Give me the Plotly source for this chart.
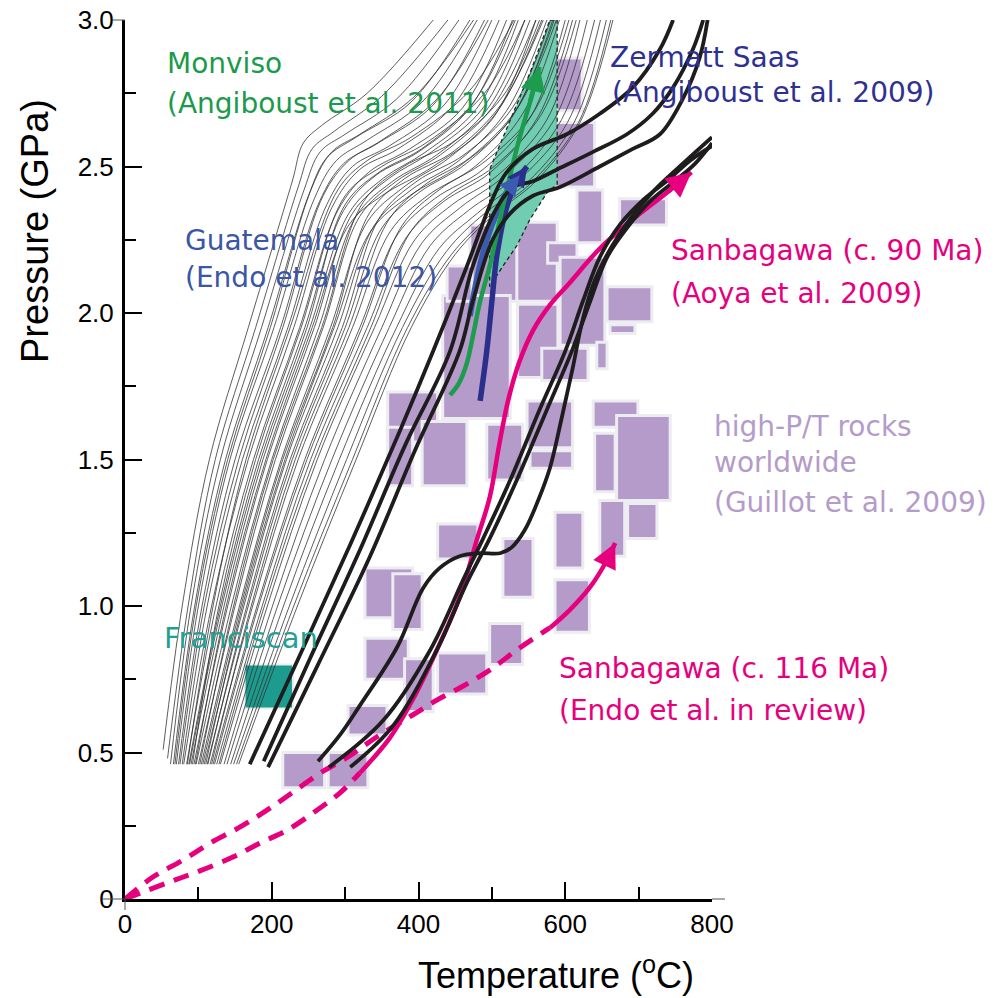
import plotly.graph_objects as go

# ---------------- DATA ----------------
x_tick_vals = [0, 200, 400, 600, 800]
x_tick_text = ["0", "200", "400", "600", "800"]
x_minor_vals = [100, 300, 500, 700]
y_tick_vals = [0, 0.5, 1.0, 1.5, 2.0, 2.5, 3.0]
y_tick_text = ["0", "0.5", "1.0", "1.5", "2.0", "2.5", "3.0"]
y_minor_vals = [0.25, 0.75, 1.25, 1.75, 2.25, 2.75]

# thin model P-T paths (temperature list, pressure list)
thin_curves = [
    ([52, 78, 115, 168, 228, 243, 268, 330, 420], [0.51, 1.0, 1.5, 1.95, 2.45, 2.58, 2.64, 2.75, 3.0]),
    ([58, 86, 123, 178, 236, 255, 285, 350, 440], [0.48, 1.0, 1.5, 1.95, 2.43, 2.56, 2.62, 2.74, 3.0]),
    ([62, 90, 130, 186, 244, 266, 300, 370, 455], [0.46, 1.0, 1.5, 1.95, 2.42, 2.55, 2.61, 2.73, 3.0]),
    ([66, 95, 137, 195, 250, 275, 315, 390, 470], [0.46, 1.0, 1.5, 1.95, 2.40, 2.53, 2.60, 2.72, 3.0]),
    ([70, 100, 143, 203, 258, 288, 330, 405, 480], [0.46, 1.0, 1.5, 1.95, 2.39, 2.52, 2.59, 2.72, 3.0]),
    ([73, 105, 150, 212, 265, 298, 345, 420, 490], [0.46, 1.0, 1.5, 1.95, 2.38, 2.51, 2.58, 2.71, 3.0]),
    ([78, 112, 160, 222, 275, 310, 360, 435, 500], [0.46, 1.0, 1.5, 1.95, 2.37, 2.50, 2.57, 2.71, 3.0]),
    ([80, 118, 168, 230, 282, 320, 372, 448, 510], [0.46, 1.0, 1.5, 1.95, 2.36, 2.49, 2.56, 2.71, 3.0]),
    ([84, 124, 175, 238, 290, 332, 388, 460, 520], [0.46, 1.0, 1.5, 1.95, 2.35, 2.48, 2.56, 2.70, 3.0]),
    ([87, 130, 182, 245, 298, 342, 400, 470, 528], [0.46, 1.0, 1.5, 1.95, 2.35, 2.47, 2.55, 2.70, 3.0]),
    ([90, 135, 188, 252, 305, 352, 410, 480, 536], [0.46, 1.0, 1.5, 1.95, 2.34, 2.46, 2.55, 2.70, 3.0]),
    ([94, 140, 194, 258, 310, 360, 418, 488, 545], [0.46, 1.0, 1.5, 1.95, 2.34, 2.46, 2.55, 2.70, 3.0]),
    ([97, 145, 200, 264, 315, 365, 425, 495, 552], [0.46, 1.0, 1.5, 1.95, 2.33, 2.45, 2.54, 2.70, 3.0]),
    ([100, 150, 205, 270, 320, 370, 430, 500, 560], [0.46, 1.0, 1.5, 1.95, 2.33, 2.45, 2.54, 2.70, 3.0]),
    ([104, 156, 213, 280, 330, 380, 442, 508, 568], [0.46, 1.0, 1.5, 1.95, 2.31, 2.43, 2.53, 2.69, 3.0]),
    ([108, 162, 220, 290, 340, 390, 455, 520, 575], [0.46, 1.0, 1.5, 1.95, 2.30, 2.42, 2.52, 2.69, 3.0]),
    ([112, 168, 228, 300, 350, 400, 465, 530, 583], [0.46, 1.0, 1.5, 1.95, 2.29, 2.41, 2.51, 2.68, 3.0]),
    ([116, 174, 236, 310, 362, 412, 477, 542, 592], [0.46, 1.0, 1.5, 1.95, 2.28, 2.40, 2.50, 2.68, 3.0]),
    ([120, 180, 245, 320, 372, 422, 488, 553, 600], [0.46, 1.0, 1.5, 1.95, 2.27, 2.39, 2.49, 2.67, 3.0]),
    ([125, 187, 253, 330, 384, 434, 498, 563, 610], [0.46, 1.0, 1.5, 1.95, 2.26, 2.38, 2.48, 2.67, 3.0]),
    ([130, 194, 262, 340, 395, 446, 508, 575, 620], [0.46, 1.0, 1.5, 1.95, 2.25, 2.37, 2.47, 2.66, 3.0]),
    ([135, 201, 272, 350, 405, 457, 518, 585, 630], [0.46, 1.0, 1.5, 1.95, 2.24, 2.36, 2.47, 2.66, 3.0]),
    ([139, 208, 282, 360, 416, 468, 530, 595, 640], [0.46, 1.0, 1.5, 1.95, 2.23, 2.35, 2.46, 2.66, 3.0]),
    ([144, 216, 292, 370, 428, 480, 540, 603, 648], [0.46, 1.0, 1.5, 1.95, 2.22, 2.34, 2.46, 2.65, 3.0]),
    ([148, 224, 302, 378, 438, 490, 550, 612, 656], [0.46, 1.0, 1.5, 1.95, 2.21, 2.34, 2.45, 2.65, 3.0]),
    ([152, 230, 310, 385, 445, 496, 556, 618, 662], [0.46, 1.0, 1.5, 1.95, 2.20, 2.33, 2.45, 2.65, 3.0]),
    ([155, 235, 315, 390, 450, 500, 560, 620, 665], [0.46, 1.0, 1.5, 1.95, 2.20, 2.33, 2.45, 2.65, 3.0]),
    ([85, 120, 165, 225, 290, 330, 390, 470, 530], [0.46, 1.0, 1.5, 1.95, 2.42, 2.52, 2.60, 2.76, 3.0]),
    ([92, 128, 178, 240, 300, 350, 410, 490, 545], [0.46, 1.0, 1.5, 1.95, 2.40, 2.50, 2.58, 2.75, 3.0]),
    ([96, 138, 192, 255, 305, 350, 420, 500, 560], [0.46, 1.0, 1.5, 1.95, 2.30, 2.40, 2.50, 2.66, 3.0]),
    ([102, 148, 202, 268, 325, 380, 445, 515, 565], [0.46, 1.0, 1.5, 1.95, 2.38, 2.50, 2.58, 2.74, 3.0]),
    ([110, 160, 218, 285, 335, 388, 455, 525, 585], [0.46, 1.0, 1.5, 1.95, 2.28, 2.40, 2.50, 2.66, 3.0]),
    ([118, 172, 232, 305, 360, 410, 470, 535, 588], [0.46, 1.0, 1.5, 1.95, 2.32, 2.44, 2.53, 2.70, 3.0]),
    ([75, 108, 155, 215, 270, 305, 350, 425, 495], [0.46, 1.0, 1.5, 1.95, 2.40, 2.52, 2.59, 2.73, 3.0]),
    ([68, 97, 140, 198, 255, 282, 320, 395, 475], [0.46, 1.0, 1.5, 1.95, 2.43, 2.55, 2.61, 2.74, 3.0]),
    ([128, 190, 258, 335, 390, 440, 503, 568, 615], [0.46, 1.0, 1.5, 1.95, 2.28, 2.40, 2.50, 2.68, 3.0]),
    ([106, 158, 215, 283, 333, 382, 447, 512, 570], [0.46, 1.0, 1.5, 1.95, 2.34, 2.46, 2.55, 2.71, 3.0]),
    ([113, 166, 225, 296, 348, 398, 462, 528, 580], [0.46, 1.0, 1.5, 1.95, 2.33, 2.45, 2.54, 2.70, 3.0]),
    ([122, 182, 248, 323, 378, 428, 492, 558, 605], [0.46, 1.0, 1.5, 1.95, 2.30, 2.42, 2.52, 2.69, 3.0]),
    ([88, 132, 185, 248, 300, 346, 404, 475, 532], [0.46, 1.0, 1.5, 1.95, 2.37, 2.48, 2.56, 2.72, 3.0]),
]

# thick black P-T paths
black_1a_T = [170, 238, 307, 375, 420, 466, 501, 520, 556, 602, 647, 692, 729, 747]
black_1a_P = [0.46, 0.83, 1.21, 1.60, 1.87, 2.16, 2.39, 2.48, 2.56, 2.61, 2.68, 2.77, 2.90, 3.0]
black_1b_T = [189, 252, 320, 382, 443, 474, 507, 529, 556, 589, 638, 684, 719, 747, 774, 788]
black_1b_P = [0.47, 0.82, 1.19, 1.55, 1.87, 2.16, 2.36, 2.43, 2.45, 2.49, 2.55, 2.61, 2.68, 2.77, 2.90, 3.0]
black_1c_T = [195, 263, 334, 395, 456, 474, 501, 525, 556, 593, 647, 692, 729, 760, 783, 794]
black_1c_P = [0.45, 0.80, 1.17, 1.53, 1.87, 2.04, 2.25, 2.34, 2.40, 2.43, 2.50, 2.56, 2.61, 2.73, 2.87, 3.0]
black_2a_T = [278, 352, 416, 461, 488, 525, 565, 600, 624, 647, 674, 708, 743, 770, 800]
black_2a_P = [0.45, 0.61, 0.85, 1.09, 1.23, 1.43, 1.67, 1.87, 2.04, 2.19, 2.30, 2.39, 2.46, 2.52, 2.57]
black_2b_T = [307, 365, 425, 466, 497, 534, 575, 609, 634, 657, 684, 715, 749, 777, 800]
black_2b_P = [0.45, 0.59, 0.85, 1.08, 1.23, 1.43, 1.67, 1.87, 2.04, 2.19, 2.29, 2.38, 2.45, 2.51, 2.58]
black_2k_T = [263, 293, 320, 371, 406, 429, 456, 484, 511, 527, 545, 563, 579, 595, 610, 624, 640, 664, 691, 722, 756, 800]
black_2k_P = [0.47, 0.56, 0.66, 0.86, 1.06, 1.13, 1.17, 1.18, 1.18, 1.20, 1.26, 1.36, 1.47, 1.64, 1.81, 1.98, 2.11, 2.23, 2.33, 2.42, 2.50, 2.60]

# Sanbagawa c. 90 Ma (Aoya et al. 2009)
sb90_dash_T = [0, 57, 98, 147, 184, 221, 262, 293, 320]
sb90_dash_P = [0, 0.055, 0.092, 0.143, 0.191, 0.235, 0.304, 0.362, 0.43]
sb90_T = [320, 361, 392, 425, 456, 480, 497, 510, 522, 537, 556, 580, 605, 647, 692, 738, 772]
sb90_P = [0.43, 0.55, 0.68, 0.85, 1.03, 1.23, 1.37, 1.55, 1.70, 1.83, 1.94, 2.03, 2.10, 2.22, 2.32, 2.41, 2.48]
# Sanbagawa c. 116 Ma (Endo et al. in review)
sb116_dash_T = [0, 38, 79, 116, 157, 194, 229, 266, 304, 343, 392, 425, 461, 497, 534, 570, 579]
sb116_dash_P = [0, 0.075, 0.133, 0.191, 0.246, 0.304, 0.365, 0.430, 0.485, 0.553, 0.628, 0.679, 0.727, 0.781, 0.850, 0.911, 0.925]
sb116_T = [579, 606, 634, 657, 668]
sb116_P = [0.925, 0.986, 1.065, 1.157, 1.215]

# Monviso (Angiboust et al. 2011)
monviso_field_T = [579, 589, 589, 575, 552, 534, 515, 497, 497, 520, 552, 579]
monviso_field_P = [3.0, 3.0, 2.44, 2.41, 2.32, 2.23, 2.16, 2.09, 2.49, 2.63, 2.82, 3.0]
monviso_T = [443, 455, 466, 474, 484, 498, 511, 524, 538, 552, 565]
monviso_P = [1.72, 1.76, 1.83, 1.92, 2.04, 2.17, 2.32, 2.46, 2.60, 2.72, 2.84]

# Guatemala (Endo et al. 2012)
guat_a_T = [470, 480, 493, 508, 522, 538]
guat_a_P = [1.99, 2.12, 2.25, 2.35, 2.42, 2.47]
guat_b_T = [484, 493, 500, 507, 520, 534, 548]
guat_b_P = [1.70, 1.87, 2.04, 2.20, 2.36, 2.45, 2.50]

# Franciscan field (T min, T max, P min, P max)
franciscan = (163, 229, 0.65, 0.80)

# high-P/T rocks worldwide (Guillot et al. 2009): T min, T max, P min, P max
high_pt_rocks = [
    (576, 623, 2.69, 2.87), (576, 640, 2.43, 2.65), (616, 651, 2.24, 2.42), (674, 738, 2.30, 2.39),
    (470, 535, 2.04, 2.30), (534, 589, 2.04, 2.31), (576, 616, 2.17, 2.24), (593, 654, 1.89, 2.19),
    (657, 718, 1.97, 2.09), (661, 695, 1.93, 1.96), (433, 525, 1.64, 2.06), (535, 590, 1.78, 2.03),
    (568, 631, 1.77, 1.88), (643, 657, 1.81, 1.90), (358, 426, 1.56, 1.73), (358, 392, 1.41, 1.61),
    (405, 466, 1.41, 1.63), (493, 542, 1.43, 1.62), (548, 610, 1.54, 1.70), (552, 610, 1.47, 1.53),
    (638, 699, 1.61, 1.70), (640, 668, 1.39, 1.59), (670, 743, 1.36, 1.65), (647, 681, 1.17, 1.36),
    (685, 725, 1.23, 1.35), (586, 624, 1.13, 1.32), (515, 556, 1.03, 1.23), (426, 481, 1.16, 1.28),
    (327, 392, 0.96, 1.13), (365, 405, 0.92, 1.11), (327, 386, 0.75, 0.89), (381, 420, 0.64, 0.82),
    (426, 493, 0.70, 0.84), (497, 542, 0.80, 0.94), (586, 633, 0.91, 1.09), (304, 357, 0.56, 0.66),
    (215, 272, 0.38, 0.50), (277, 331, 0.38, 0.50), (439, 473, 2.04, 2.16),
]

# ---------------- FIGURE ----------------
PINK = "#e6007e"
fig = go.Figure()

for (t0, t1, p0, p1) in high_pt_rocks:
    fig.add_shape(type="rect", x0=t0, x1=t1, y0=p0, y1=p1, xref="x", yref="y",
                  fillcolor="#b49bc9", line=dict(color="#ececf1", width=3), layer="below")
fig.add_shape(type="rect", x0=franciscan[0], x1=franciscan[1], y0=franciscan[2], y1=franciscan[3],
              xref="x", yref="y", fillcolor="#1b9c8e", line=dict(color="#e9efee", width=2), layer="below")

# Monviso field
fig.add_trace(go.Scatter(x=monviso_field_T, y=monviso_field_P, mode="lines", fill="toself",
                         fillcolor="#70cdb1", line=dict(color="#222", width=1.3, dash="4px,3px"),
                         hoverinfo="skip"))

for T, P in thin_curves:
    fig.add_trace(go.Scatter(x=T, y=P, mode="lines", line=dict(color="#333333", width=0.8, shape="spline"),
                             hoverinfo="skip"))

# Guatemala arrows
fig.add_trace(go.Scatter(x=guat_a_T, y=guat_a_P, mode="lines",
                         line=dict(color="#3a5bb0", width=6, shape="spline")))
fig.add_trace(go.Scatter(x=guat_b_T, y=guat_b_P, mode="lines",
                         line=dict(color="#2b2f8c", width=5.5, shape="spline")))
# Monviso arrow
fig.add_trace(go.Scatter(x=monviso_T, y=monviso_P, mode="lines",
                         line=dict(color="#1c9c4c", width=4.5, shape="spline")))

# Sanbagawa paths
fig.add_trace(go.Scatter(x=sb90_dash_T, y=sb90_dash_P, mode="lines",
                         line=dict(color=PINK, width=5, dash="16px,10px", shape="spline")))
fig.add_trace(go.Scatter(x=sb116_dash_T, y=sb116_dash_P, mode="lines",
                         line=dict(color=PINK, width=5, dash="16px,10px", shape="spline")))
fig.add_trace(go.Scatter(x=sb90_T, y=sb90_P, mode="lines",
                         line=dict(color=PINK, width=4.5, shape="spline")))
fig.add_trace(go.Scatter(x=sb116_T, y=sb116_P, mode="lines",
                         line=dict(color=PINK, width=4.5, shape="spline")))

for T, P in [(black_1a_T, black_1a_P), (black_1b_T, black_1b_P), (black_1c_T, black_1c_P),
             (black_2a_T, black_2a_P), (black_2b_T, black_2b_P), (black_2k_T, black_2k_P)]:
    fig.add_trace(go.Scatter(x=T, y=P, mode="lines",
                             line=dict(color="#1e1c1c", width=3.8, shape="spline")))

# arrow heads
for T, P, col, w, s in [(sb90_T, sb90_P, PINK, 4.5, 1.1), (sb116_T, sb116_P, PINK, 4.5, 1.1),
                        (monviso_T, monviso_P, "#1c9c4c", 4.5, 1.1), (guat_b_T, guat_b_P, "#2b2f8c", 5, 0.8),
                        (guat_a_T, guat_a_P, "#3a5bb0", 5, 0.8)]:
    fig.add_annotation(x=T[-1], y=P[-1], ax=T[-2], ay=P[-2], xref="x", yref="y", axref="x", ayref="y",
                       text="", showarrow=True, arrowhead=2, arrowsize=s, arrowwidth=w,
                       arrowcolor=col, standoff=0, startstandoff=0)

# text labels
LABEL_FONT = "DejaVu Sans"
labels = [
    ("Monviso", 54, 2.85, "#1a9a4c"),
    ("(Angiboust et al. 2011)", 54, 2.715, "#1a9a4c"),
    ("Zermatt Saas", 658, 2.872, "#2e3192"),
    ("(Angiboust et al. 2009)", 661, 2.752, "#2e3192"),
    ("Guatemala", 79, 2.247, "#3b55a7"),
    ("(Endo et al. 2012)", 79, 2.121, "#3b55a7"),
    ("Sanbagawa (c. 90 Ma)", 741, 2.213, PINK),
    ("(Aoya et al. 2009)", 741, 2.066, PINK),
    ("high-P/T rocks", 800, 1.612, "#b49bc9"),
    ("worldwide", 800, 1.489, "#b49bc9"),
    ("(Guillot et al. 2009)", 800, 1.353, "#b49bc9"),
    ("Franciscan", 51, 0.891, "#1fa197"),
    ("Sanbagawa (c. 116 Ma)", 589, 0.786, PINK),
    ("(Endo et al. in review)", 589, 0.643, PINK),
]
for txt, tx, ty, col in labels:
    fig.add_annotation(x=tx, y=ty, xref="x", yref="y", text=txt, showarrow=False,
                       xanchor="left", yanchor="middle",
                       font=dict(family=LABEL_FONT, size=29 if txt == "Franciscan" else 28, color=col))

# plot area in page pixels: x 125..712, y 20..899 (page body has an 8px offset)
L, T_, W_, H_ = 117, 12, 587, 879
# axis titles
fig.add_annotation(x=(35 - 125) / 587, y=(899 - 231) / 879, xref="paper", yref="paper",
                   text="Pressure (GPa)", showarrow=False, textangle=-90,
                   xanchor="center", yanchor="middle",
                   font=dict(family="Liberation Sans", size=38, color="black"))
fig.add_annotation(x=(556 - 125) / 587, y=(899 - 973) / 879, xref="paper", yref="paper",
                   text="Temperature (<sup>o</sup>C)", showarrow=False,
                   xanchor="center", yanchor="middle",
                   font=dict(family="Liberation Sans", size=36, color="black"))

# small thin frame remnants beside the axes
for sx0, sx1, sy0, sy1 in [(-22 / 587, 0, 0, 0), (-12 / 587, 0, 1, 1), (1, 1 + 13 / 587, 0, 0),
                           (0, 0, 0, -11 / 879)]:
    fig.add_shape(type="line", xref="paper", yref="paper", x0=sx0, x1=sx1, y0=sy0, y1=sy1,
                  line=dict(color="#555555", width=1))

axis_common = dict(showline=True, linecolor="black", linewidth=3, ticks="inside", ticklen=17,
                   tickwidth=2, tickcolor="black", showgrid=False, zeroline=False, automargin=False,
                   ticklabeloverflow="allow",
                   tickfont=dict(family="Liberation Sans", size=26, color="black"))
fig.update_xaxes(range=[0, 800], tickvals=x_tick_vals, ticktext=x_tick_text, ticklabelstandoff=0,
                 minor=dict(tickvals=x_minor_vals, ticks="inside", ticklen=12, tickwidth=2, tickcolor="black"),
                 **axis_common)
fig.update_yaxes(range=[0, 3.0], tickvals=y_tick_vals, ticktext=y_tick_text, ticklabelstandoff=3,
                 minor=dict(tickvals=y_minor_vals, ticks="inside", ticklen=11, tickwidth=2, tickcolor="black"),
                 **axis_common)

fig.update_layout(width=1002, height=998,
                  margin=dict(l=L, r=1002 - L - W_, t=T_, b=998 - T_ - H_),
                  plot_bgcolor="white", paper_bgcolor="white", showlegend=False)

fig.write_html("out.html")
